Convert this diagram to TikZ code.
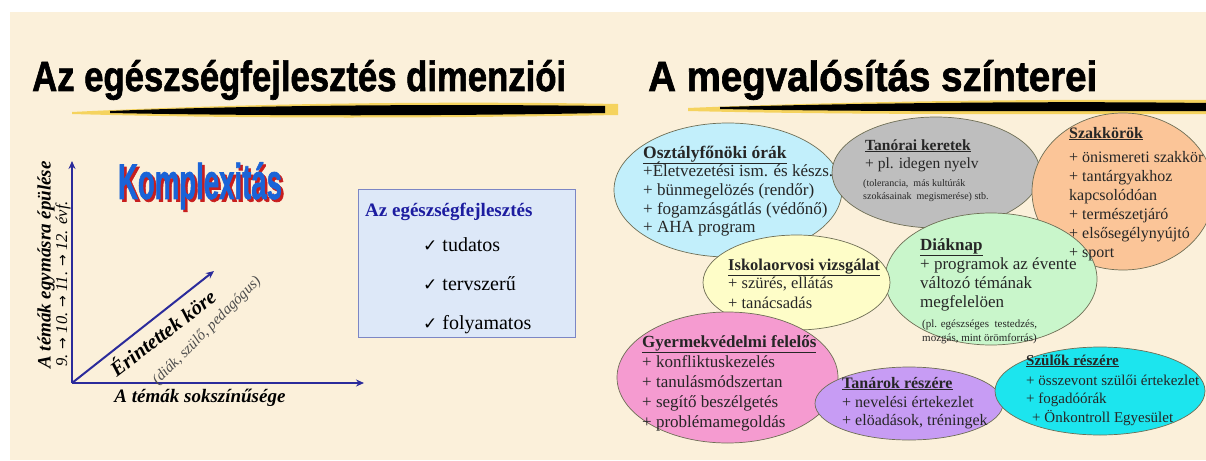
\documentclass[tikz,border=0pt]{standalone}
\usepackage{fontspec}
\usepackage{graphicx}
\setmainfont{Liberation Serif}
\newfontfamily\sansfont{Liberation Sans}[BoldFeatures={FakeBold=1.6}]
\newfontfamily\djvfont{DejaVu Sans}
\usetikzlibrary{shapes.geometric,arrows.meta}
\definecolor{beige}{HTML}{FBF0DA}
\definecolor{stroke}{HTML}{EDB714}
\definecolor{strokelt}{HTML}{F5D35E}
\definecolor{axiscol}{HTML}{2B2B9B}
\definecolor{komblue}{HTML}{1A64D8}
\definecolor{komred}{HTML}{C81E1E}
\definecolor{boxfill}{HTML}{DDE8F8}
\definecolor{boxdraw}{HTML}{7C86C4}
\definecolor{boxtitle}{HTML}{1C1CA0}
\definecolor{edgecol}{HTML}{6E6E55}
\definecolor{txtcol}{HTML}{262626}
\definecolor{cyanb}{HTML}{C2EFFB}
\definecolor{grayb}{HTML}{BEBEBE}
\definecolor{orangeb}{HTML}{FBC598}
\definecolor{yellowb}{HTML}{FEFDC8}
\definecolor{greenb}{HTML}{C9F6CB}
\definecolor{pinkb}{HTML}{F59BD0}
\definecolor{purpleb}{HTML}{C79CF4}
\definecolor{turqb}{HTML}{1CE5EE}
\newcommand\ttl[1]{\textbf{\underline{#1}}}
\newcommand\komtext{\resizebox*{164pt}{47pt}{\sansfont\bfseries Komplexitás}}
\newcommand\arr{{\djvfont\fontsize{14}{16}\selectfont →}}
\tikzset{
  bubble/.style={ellipse, draw=edgecol, line width=0.7pt, inner sep=0pt},
  ln/.style={anchor=base west, inner sep=0pt, text=txtcol, text height=0.62em, text depth=0.2em},
  axisarrow/.style={draw=axiscol, line width=2pt, -{Stealth[length=8pt,width=7pt]}},
  fa/.style={font=\fontsize{17}{20}\selectfont},
  fb/.style={font=\fontsize{15.5}{18}\selectfont},
  fc/.style={font=\fontsize{16}{19}\selectfont},
  fd/.style={font=\fontsize{16.5}{19}\selectfont},
  fe/.style={font=\fontsize{15}{18}\selectfont},
  fsmall/.style={font=\fontsize{10}{12}\selectfont},
  fsmallb/.style={font=\fontsize{11}{13}\selectfont},
  chk/.style={anchor=base west, inner sep=0pt, font=\fontsize{20}{22}\selectfont},
}
\begin{document}
\begin{tikzpicture}[x=1pt,y=-1pt]
\useasboundingbox (0,0) rectangle (1206,460);
\fill[white] (0,0) rectangle (1206,460);
\fill[beige] (10,12) rectangle (1206,460);

% brush strokes
\fill[strokelt] (72,112) .. controls (250,103) and (450,101) .. (618,104)
   -- (618,115) .. controls (450,118) and (250,119) .. (72,114) -- cycle;
\fill[stroke] (110,111) .. controls (260,105) and (450,104) .. (605,106)
   -- (605,113) .. controls (450,116) and (260,116) .. (110,113) -- cycle;
\fill[strokelt] (688,108) .. controls (850,101) and (1050,99) .. (1206,100)
   -- (1206,114) .. controls (1050,114) and (850,115) .. (688,111) -- cycle;
\fill[stroke] (720,107) .. controls (870,103) and (1050,101) .. (1206,103)
   -- (1206,111) .. controls (1050,111) and (870,112) .. (720,109) -- cycle;

% titles
\node[anchor=base west, inner sep=0pt] (t1) at (32,91)
  {\resizebox{534pt}{31pt}{\sansfont\bfseries Az egészségfejlesztés dimenziói}};
\node[anchor=base west, inner sep=0pt] (t2) at (648,91)
  {\resizebox{449pt}{31pt}{\sansfont\bfseries A megvalósítás színterei}};

% left chart
\coordinate (o) at (72,383);
\coordinate (ytop) at (72,161);
\coordinate (xend) at (364,383);
\coordinate (dend) at (214,271);
\draw[axisarrow] (o) -- (ytop);
\draw[axisarrow] (o) -- (xend);
\draw[axisarrow] (o) -- (dend);

\node[text=komblue, inner sep=0pt] (kom) at (200,187)
  {\rlap{\hspace{2.5pt}\raisebox{-2.5pt}{\color{komred}\komtext}}\komtext};

\node[rotate=90, inner sep=0pt, font=\fontsize{19}{22}\selectfont\bfseries\itshape] (ylab) at (46,265)
  {A témák egymásra épülése};
\node[rotate=90, inner sep=0pt, font=\fontsize{16.5}{18}\selectfont\itshape] (ygr) at (63,284)
  {9. \arr{} 10. \arr{} 11. \arr{} 12. évf.};
\node[inner sep=0pt, font=\fontsize{19}{22}\selectfont\bfseries\itshape] (xlab) at (200,398)
  {A témák sokszínűsége};
\node[rotate=37.5, inner sep=0pt, font=\fontsize{20.5}{22}\selectfont\bfseries\itshape] (dlab) at (162,332)
  {Érintettek köre};
\node[rotate=45, inner sep=0pt, text=black!70, font=\fontsize{15}{17}\selectfont\itshape] (dsub) at (207,331)
  {(diák, szülő, pedagógus)};

% blue box
\node[draw=boxdraw, fill=boxfill, line width=0.8pt, minimum width=217pt, minimum height=148pt, inner sep=0pt] (box) at (466.5,263) {};
\node[anchor=base west, inner sep=0pt, text=boxtitle, font=\fontsize{19}{22}\selectfont\bfseries] (bt) at (365,216) {Az egészségfejlesztés};
\node[chk] (b1) at (423,251) {{\djvfont\fontsize{17}{18}\selectfont ✓} tudatos};
\node[chk] (b2) at (423,290) {{\djvfont\fontsize{17}{18}\selectfont ✓} tervszerű};
\node[chk] (b3) at (423,329) {{\djvfont\fontsize{17}{18}\selectfont ✓} folyamatos};

% bubbles
\node[bubble, fill=cyanb, minimum width=228pt, minimum height=134pt] (osz) at (728,190) {};
\node[bubble, fill=grayb, minimum width=208pt, minimum height=111pt] (tan) at (936,172.5) {};
\node[bubble, fill=orangeb, minimum width=182pt, minimum height=157pt] (szak) at (1123,191.5) {};
\node[bubble, fill=greenb, minimum width=212pt, minimum height=132pt] (diak) at (991,279) {};
\node[bubble, fill=yellowb, minimum width=187pt, minimum height=95pt] (isk) at (796.5,282.5) {};
\node[bubble, fill=pinkb, minimum width=221pt, minimum height=131pt] (gyer) at (727.5,377.5) {};
\node[bubble, fill=purpleb, minimum width=188pt, minimum height=73pt] (tanar) at (909,403.5) {};
\node[bubble, fill=turqb, minimum width=210pt, minimum height=88pt] (szul) at (1100,391) {};

% texts: Osztályfőnöki
\node[ln, font=\fontsize{17.5}{20}\selectfont] (osz0) at (643,158) {\ttl{Osztályfőnöki órák}};
\node[ln, fa] (osz1) at (643,176) {+Életvezetési ism. és készs.};
\node[ln, fa] (osz2) at (643,195) {+ bünmegelözés (rendőr)};
\node[ln, fa] (osz3) at (643,214) {+ fogamzásgátlás (védőnő)};
\node[ln, fa] (osz4) at (643,232) {+ AHA program};
% Tanórai
\node[ln, fb] (tan0) at (865,150) {\ttl{Tanórai keretek}};
\node[ln, fb] (tan1) at (865,168) {+ pl. idegen nyelv};
\node[ln, fsmall] (tan2) at (863,186) {(tolerancia,\ \ más kultúrák};
\node[ln, fsmall] (tan3) at (863,199) {szokásainak\ \ megismerése) stb.};
% Szakkörök
\node[ln, fc] (szak0) at (1069,138) {\ttl{Szakkörök}};
\node[ln, fc] (szak1) at (1069,162) {+ önismereti szakkör};
\node[ln, fc] (szak2) at (1069,181) {+ tantárgyakhoz};
\node[ln, fc] (szak3) at (1069,200) {kapcsolódóan};
\node[ln, fc] (szak4) at (1069,219) {+ természetjáró};
\node[ln, fc] (szak5) at (1069,238) {+ elsősegélynyújtó};
\node[ln, fc] (szak6) at (1069,257) {+ sport};
% Iskolaorvosi
\node[ln, fd] (isk0) at (728,270) {\ttl{Iskolaorvosi vizsgálat}};
\node[ln, fd] (isk1) at (728,288) {+ szürés, ellátás};
\node[ln, fd] (isk2) at (728,308) {+ tanácsadás};
% Diáknap
\node[ln, fa] (diak0) at (920,250) {\ttl{Diáknap}};
\node[ln, fa] (diak1) at (920,269) {+ programok az évente};
\node[ln, fa] (diak2) at (920,288) {változó témának};
\node[ln, fa] (diak3) at (920,307) {megfelelöen};
\node[ln, fsmallb] (diak4) at (922,327) {(pl. egészséges\ \ testedzés,};
\node[ln, fsmallb] (diak5) at (922,341) {mozgás,\ mint örömforrás)};
% Gyermekvédelmi
\node[ln, fa] (gyer0) at (642,347) {\ttl{Gyermekvédelmi felelős}};
\node[ln, fa] (gyer1) at (642,367) {+ konfliktuskezelés};
\node[ln, fa] (gyer2) at (642,387) {+ tanulásmódszertan};
\node[ln, fa] (gyer3) at (642,407) {+ segítő beszélgetés};
\node[ln, fa] (gyer4) at (642,427) {+ problémamegoldás};
% Tanárok
\node[ln, fc] (tanar0) at (842,388) {\ttl{Tanárok részére}};
\node[ln, fc] (tanar1) at (842,407) {+ nevelési értekezlet};
\node[ln, fc] (tanar2) at (842,425) {+ elöadások, tréningek};
% Szülők
\node[ln, fe] (szul0) at (1026,365) {\ttl{Szülők részére}};
\node[ln, fe] (szul1) at (1026,385) {+ összevont szülői\ értekezlet};
\node[ln, fe] (szul2) at (1026,403) {+ fogadóórák};
\node[ln, fe] (szul3) at (1032,422) {+ Önkontroll Egyesület};
\end{tikzpicture}
\end{document}
